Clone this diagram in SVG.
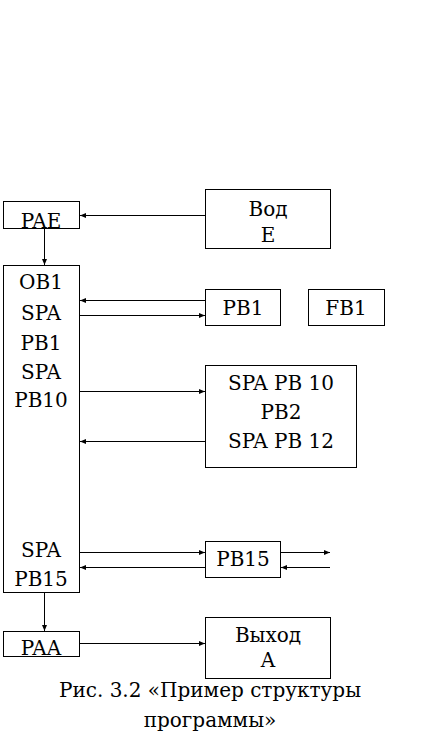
<svg xmlns="http://www.w3.org/2000/svg" width="440" height="735" viewBox="0 0 440 735">
<defs>
<style>
rect{fill:#fff;stroke:#000;stroke-width:1}
text{font-family:"DejaVu Serif","Liberation Serif",serif;font-size:20px;fill:#000;text-anchor:middle}
.c line{stroke:#000;stroke-width:1}
</style>
<marker id="ah" viewBox="0 0 6 6" refX="6" refY="3" markerWidth="6" markerHeight="6" markerUnits="userSpaceOnUse" orient="auto"><path d="M0,0.5 L6,3 L0,5.5 Z" fill="#000"/></marker>
</defs>
<rect x="0" y="0" width="440" height="735" style="stroke:none"/>
<g id="pae"><rect x="3.5" y="201.5" width="76" height="27"/><text x="41" y="228">PAE</text></g>
<g id="vod"><rect x="205.5" y="189.5" width="125" height="59"/><text x="268" y="216">Вод</text><text x="268" y="242">E</text></g>
<g id="ob1"><rect x="3.5" y="265.5" width="76" height="327"/>
<text x="41" y="289">OB1</text><text x="41" y="320">SPA</text><text x="41" y="350">PB1</text><text x="41" y="379">SPA</text><text x="41" y="407">PB10</text>
<text x="41" y="557">SPA</text><text x="41" y="586">PB15</text></g>
<g id="pb1"><rect x="205.5" y="289.5" width="75" height="36"/><text x="243" y="315">PB1</text></g>
<g id="fb1"><rect x="308.5" y="289.5" width="76" height="36"/><text x="346" y="315">FB1</text></g>
<g id="pb10"><rect x="205.5" y="365.5" width="151" height="102"/><text x="281" y="390">SPA PB 10</text><text x="281" y="419">PB2</text><text x="281" y="448">SPA PB 12</text></g>
<g id="pb15"><rect x="205.5" y="541.5" width="75" height="36"/><text x="243" y="566">PB15</text></g>
<g id="paa"><rect x="3.5" y="631.5" width="76" height="25"/><text x="41" y="655">PAA</text></g>
<g id="vyhod"><rect x="205.5" y="617.5" width="125" height="61"/><text x="268" y="642">Выход</text><text x="268" y="667">A</text></g>
<g id="caption"><text x="210" y="697">Рис. 3.2 «Пример структуры</text><text x="210" y="727">программы»</text></g>
<g class="c" id="connectors">
<line x1="205" y1="215.5" x2="80" y2="215.5" marker-end="url(#ah)"/>
<line x1="44.5" y1="229" x2="44.5" y2="265" marker-end="url(#ah)"/>
<line x1="205" y1="300.5" x2="80" y2="300.5" marker-end="url(#ah)"/>
<line x1="80" y1="315.5" x2="205" y2="315.5" marker-end="url(#ah)"/>
<line x1="80" y1="391.5" x2="205" y2="391.5" marker-end="url(#ah)"/>
<line x1="205" y1="441.5" x2="80" y2="441.5" marker-end="url(#ah)"/>
<line x1="80" y1="552.5" x2="205" y2="552.5" marker-end="url(#ah)"/>
<line x1="205" y1="567.5" x2="80" y2="567.5" marker-end="url(#ah)"/>
<line x1="281" y1="552.5" x2="330" y2="552.5" marker-end="url(#ah)"/>
<line x1="330" y1="567.5" x2="281" y2="567.5" marker-end="url(#ah)"/>
<line x1="44.5" y1="593" x2="44.5" y2="631" marker-end="url(#ah)"/>
<line x1="80" y1="643.5" x2="205" y2="643.5" marker-end="url(#ah)"/>
</g>
</svg>
